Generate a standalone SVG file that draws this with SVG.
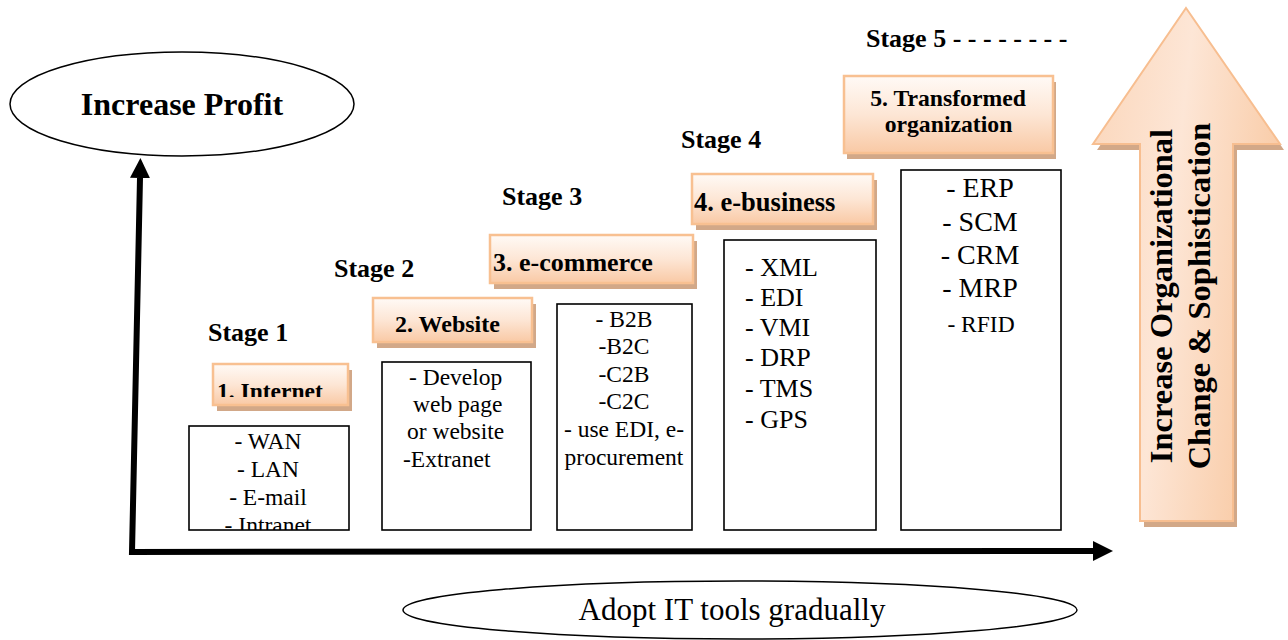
<svg xmlns="http://www.w3.org/2000/svg" width="1288" height="640" viewBox="0 0 1288 640">
<style>
  .serif { font-family: "Liberation Serif", "Times New Roman", serif; fill: #000; }
  .bold { font-weight: bold; }
  .stage { font-family: "Liberation Serif", "Times New Roman", serif; font-weight: bold; font-size: 26px; }
  .sbox { fill: url(#stageFill); stroke: #F8C091; stroke-width: 2.5; }
  .shadow { fill: #D2A888; }
  .cbox { fill: #fff; stroke: #000; stroke-width: 1.6; }
  .ell { fill: #fff; stroke: #000; stroke-width: 1.5; }
  .axis { fill: none; stroke: #000; stroke-width: 6; stroke-linejoin: miter; }
</style>
<defs>
  <linearGradient id="stageFill" x1="0" y1="0" x2="0" y2="1">
    <stop offset="0" stop-color="#FFFAF6"/>
    <stop offset="0.5" stop-color="#FDE6D5"/>
    <stop offset="1" stop-color="#F9C9A5"/>
  </linearGradient>
  <linearGradient id="bigFill" x1="0" y1="0" x2="1" y2="0.3">
    <stop offset="0" stop-color="#FBD6BA"/>
    <stop offset="0.5" stop-color="#FDE6D6"/>
    <stop offset="1" stop-color="#F9CCA8"/>
  </linearGradient>
  <marker id="arrow" markerUnits="userSpaceOnUse" markerWidth="20" markerHeight="20" refX="0" refY="10" orient="auto-start-reverse">
    <path d="M0,0 L20,10 L0,20 Z" fill="#000"/>
  </marker>
  <clipPath id="clip1"><rect x="200" y="360" width="160" height="37"/></clipPath>
  <clipPath id="clipC1"><rect x="189" y="426" width="160" height="104"/></clipPath>
</defs>

<g id="connectors">
  <path class="axis" d="M140,178 L132,552 L1093,551" marker-start="url(#arrow)" marker-end="url(#arrow)"/>
</g>

<g id="increase-profit">
  <ellipse class="ell" cx="182" cy="104" rx="172" ry="52"/>
  <text class="serif bold" x="182" y="115" font-size="32" text-anchor="middle">Increase Profit</text>
</g>

<g id="adopt-it">
  <ellipse class="ell" cx="740" cy="610" rx="337" ry="29"/>
  <text class="serif" x="732" y="620" font-size="31" text-anchor="middle">Adopt IT tools gradually</text>
</g>

<g id="stage-labels">
  <text class="stage" x="208" y="341">Stage 1</text>
  <text class="stage" x="334" y="277">Stage 2</text>
  <text class="stage" x="502" y="205">Stage 3</text>
  <text class="stage" x="681" y="148">Stage 4</text>
  <text class="stage" x="866" y="47">Stage 5 - - - - - - - -</text>
</g>

<g id="stage1-title">
  <rect class="shadow" x="217" y="370" width="135" height="41"/>
  <rect class="sbox" x="213" y="364" width="135" height="41"/>
  <text class="serif bold" x="217" y="399" font-size="23.5" clip-path="url(#clip1)">1. Internet</text>
</g>
<g id="stage1-tools">
  <rect class="cbox" x="189" y="426" width="160" height="104"/>
  <g class="serif" font-size="23.5" text-anchor="middle" clip-path="url(#clipC1)">
    <text x="268" y="449">- WAN</text>
    <text x="268" y="477">- LAN</text>
    <text x="268" y="505">- E-mail</text>
    <text x="268" y="533">- Intranet</text>
  </g>
</g>

<g id="stage2-title">
  <rect class="shadow" x="377" y="304" width="159" height="44"/>
  <rect class="sbox" x="373" y="298" width="159" height="44"/>
  <text class="serif bold" x="395" y="332" font-size="24">2. Website</text>
</g>
<g id="stage2-tools">
  <rect class="cbox" x="382" y="362" width="149" height="168"/>
  <g class="serif" font-size="23.5">
    <text x="409" y="385">- Develop</text>
    <text x="413" y="412">web page</text>
    <text x="407" y="439">or website</text>
    <text x="403" y="467">-Extranet</text>
  </g>
</g>

<g id="stage3-title">
  <rect class="shadow" x="494" y="241" width="203" height="48"/>
  <rect class="sbox" x="490" y="235" width="203" height="48"/>
  <text class="serif bold" x="493" y="271" font-size="26">3. e-commerce</text>
</g>
<g id="stage3-tools">
  <rect class="cbox" x="557" y="304" width="135" height="226"/>
  <g class="serif" font-size="23.5" text-anchor="middle">
    <text x="624" y="327">- B2B</text>
    <text x="624" y="354">-B2C</text>
    <text x="624" y="382">-C2B</text>
    <text x="624" y="409">-C2C</text>
    <text x="624" y="437">- use EDI, e-</text>
    <text x="624" y="465">procurement</text>
  </g>
</g>

<g id="stage4-title">
  <rect class="shadow" x="696" y="180" width="181" height="50"/>
  <rect class="sbox" x="692" y="174" width="181" height="50"/>
  <text class="serif bold" x="694" y="211" font-size="26.5">4. e-business</text>
</g>
<g id="stage4-tools">
  <rect class="cbox" x="724" y="240" width="152" height="290"/>
  <g class="serif" font-size="26">
    <text x="745" y="276">- XML</text>
    <text x="745" y="306">- EDI</text>
    <text x="745" y="336">- VMI</text>
    <text x="745" y="366">- DRP</text>
    <text x="745" y="397">- TMS</text>
    <text x="745" y="428">- GPS</text>
  </g>
</g>

<g id="stage5-title">
  <rect class="shadow" x="847" y="82" width="209" height="77"/>
  <rect class="sbox" x="844" y="76" width="209" height="77"/>
  <g class="serif bold" font-size="23.7" text-anchor="middle">
    <text x="948" y="106">5. Transformed</text>
    <text x="948.5" y="132">organization</text>
  </g>
</g>
<g id="stage5-tools">
  <rect class="cbox" x="901" y="170" width="160" height="360"/>
  <g class="serif" font-size="28" text-anchor="middle">
    <text x="980" y="197">- ERP</text>
    <text x="980" y="231">- SCM</text>
    <text x="980" y="264">- CRM</text>
    <text x="980" y="297">- MRP</text>
    <text x="981" y="332" font-size="23.5">- RFID</text>
  </g>
</g>

<g id="big-arrow">
  <path d="M1190,14 L1284,150 L1237,150 L1237,527 L1144,527 L1144,150 L1097,150 Z" fill="#D2A888"/>
  <path d="M1186,8 L1280,144 L1233,144 L1233,521 L1140,521 L1140,144 L1093,144 Z" fill="url(#bigFill)" stroke="#F7BE90" stroke-width="2"/>
  <g class="serif bold" font-size="32.5" text-anchor="middle">
    <text transform="translate(1172,296) rotate(-90)">Increase Organizational</text>
    <text transform="translate(1210,296) rotate(-90)">Change &amp; Sophistication</text>
  </g>
</g>
</svg>
